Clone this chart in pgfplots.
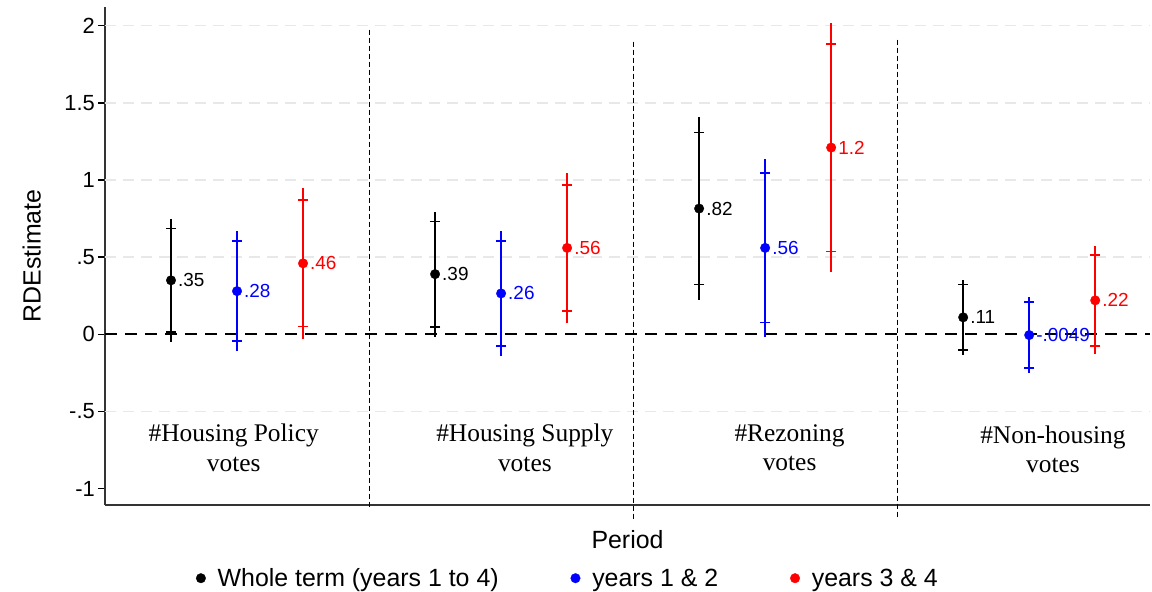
\documentclass[border=0pt]{standalone}
\usepackage{fontspec}
\setmainfont{Liberation Sans}
\newfontfamily\grpfont{Liberation Serif}
\usepackage{pgfplots}
\pgfplotsset{compat=1.18}
\usepackage{pgfplotstable}

\pgfplotstableread{
x y e90 e95 lab
1 0.350 0.336 0.400 .35
5 0.390 0.341 0.405 .39
9 0.815 0.493 0.590 .82
13 0.110 0.212 0.245 .11
}\whole
\pgfplotstableread{
x y e90 e95 lab
2 0.280 0.325 0.390 .28
6 0.265 0.340 0.406 .26
10 0.560 0.484 0.575 .56
14 -0.0049 0.2125 0.2465 -.0049
}\early
\pgfplotstableread{
x y e90 e95 lab
3 0.460 0.410 0.490 .46
7 0.560 0.408 0.486 .56
11 1.210 0.673 0.806 1.2
15 0.220 0.2955 0.350 .22
}\late

\pgfplotsset{
  ci95/.style={forget plot, only marks, mark=none,
    error bars/.cd, y dir=both, y explicit, error mark=none,
    error bar style={line width=2.5bp, #1}},
  ci90/.style={forget plot, only marks, mark=none,
    error bars/.cd, y dir=both, y explicit, error mark=-,
    error mark options={rotate=90, mark size=5.2bp, line width=1.6bp, #1},
    error bar style={line width=2.5bp, #1}},
  pt/.style={only marks, mark=*, mark size=4.8bp, color=#1,
    mark options={line width=0.3bp},
    nodes near coords, point meta=explicit symbolic,
    every node near coord/.style={anchor=west, font=\fontsize{19}{22}\selectfont, color=#1, xshift=5.5bp, inner sep=1.5bp}},
}

\begin{document}
\begin{tikzpicture}
\begin{axis}[
  scale only axis, width=1045bp, height=498bp,
  xmin=0, xmax=15.83, ymin=-1.106, ymax=2.121,
  clip=false,
  axis lines*=left,
  axis line style={line width=1.8bp, black!80},
  xtick=\empty,
  ytick={-1,-0.5,0,0.5,1,1.5,2},
  yticklabels={-1,-.5,0,.5,1,1.5,2},
  extra y ticks={-0.5,0.5,1,1.5,2},
  extra y tick labels={},
  extra y tick style={ymajorgrids=true, major tick length=0pt},
  major grid style={draw=black!9, line width=1.6bp, dash pattern=on 11bp off 7bp},
  tick align=outside, major tick length=7bp,
  tick style={line width=1.5bp, black},
  yticklabel style={font=\fontsize{22}{26}\selectfont, inner sep=3bp},
  ylabel={RDEstimate},
  ylabel style={at={(axis description cs:-0.070,0.5)}, anchor=center, font=\fontsize{25}{30}\selectfont},
  xlabel={Period},
  xlabel style={at={(axis description cs:0.5,0)}, anchor=center, yshift=-35bp, font=\fontsize{25}{30}\selectfont},
  legend columns=3,
  legend style={draw=none, fill=none, at={(axis description cs:0.087,-0.147)}, anchor=west,
    font=\fontsize{25}{30}\selectfont, inner sep=0pt,
    /tikz/every odd column/.append style={column sep=10bp},
    /tikz/every even column/.append style={column sep=70bp}},
  legend cell align=left,
  legend image code/.code={\draw[#1] plot coordinates {(0bp,0bp)};},
]
% reference lines
\draw[black, line width=2.3bp, dash pattern=on 12bp off 8bp] (axis cs:0,0) -- (axis cs:15.83,0);
\draw[black, line width=1.1bp, dash pattern=on 5bp off 3bp] (axis cs:4,1.974) -- (axis cs:4,-1.136);
\draw[black, line width=1.1bp, dash pattern=on 5bp off 3bp] (axis cs:8,1.896) -- (axis cs:8,-1.208);
\draw[black, line width=1.1bp, dash pattern=on 5bp off 3bp] (axis cs:12,1.909) -- (axis cs:12,-1.201);

\addplot[ci95=black] table[x=x, y=y, y error=e95] {\whole};
\addplot[ci90=black] table[x=x, y=y, y error=e90] {\whole};
\addplot[ci95=blue] table[x=x, y=y, y error=e95] {\early};
\addplot[ci90=blue] table[x=x, y=y, y error=e90] {\early};
\addplot[ci95=red] table[x=x, y=y, y error=e95] {\late};
\addplot[ci90=red] table[x=x, y=y, y error=e90] {\late};

\addplot[pt=black] table[x=x, y=y, meta=lab] {\whole};
\addlegendentry{Whole term (years 1 to 4)}
\addplot[pt=blue] table[x=x, y=y, meta=lab] {\early};
\addlegendentry{years 1 \& 2}
\addplot[pt=red] table[x=x, y=y, meta=lab] {\late};
\addlegendentry{years 3 \& 4}

\node[font=\grpfont\fontsize{25.5}{30}\selectfont, align=center] at (axis cs:1.95,-0.735) {\#Housing Policy\\votes};
\node[font=\grpfont\fontsize{25.5}{30}\selectfont, align=center] at (axis cs:6.36,-0.735) {\#Housing Supply\\votes};
\node[font=\grpfont\fontsize{25.5}{30}\selectfont, align=center] at (axis cs:10.37,-0.735) {\#Rezoning\\votes};
\node[font=\grpfont\fontsize{25.5}{30}\selectfont, align=center] at (axis cs:14.36,-0.745) {\#Non-housing\\votes};
\end{axis}
\pgfresetboundingbox
\path[use as bounding box] ([xshift=-105bp,yshift=-87bp]current axis.south west) rectangle ([xshift=2bp,yshift=7bp]current axis.north east);
\end{tikzpicture}
\end{document}
